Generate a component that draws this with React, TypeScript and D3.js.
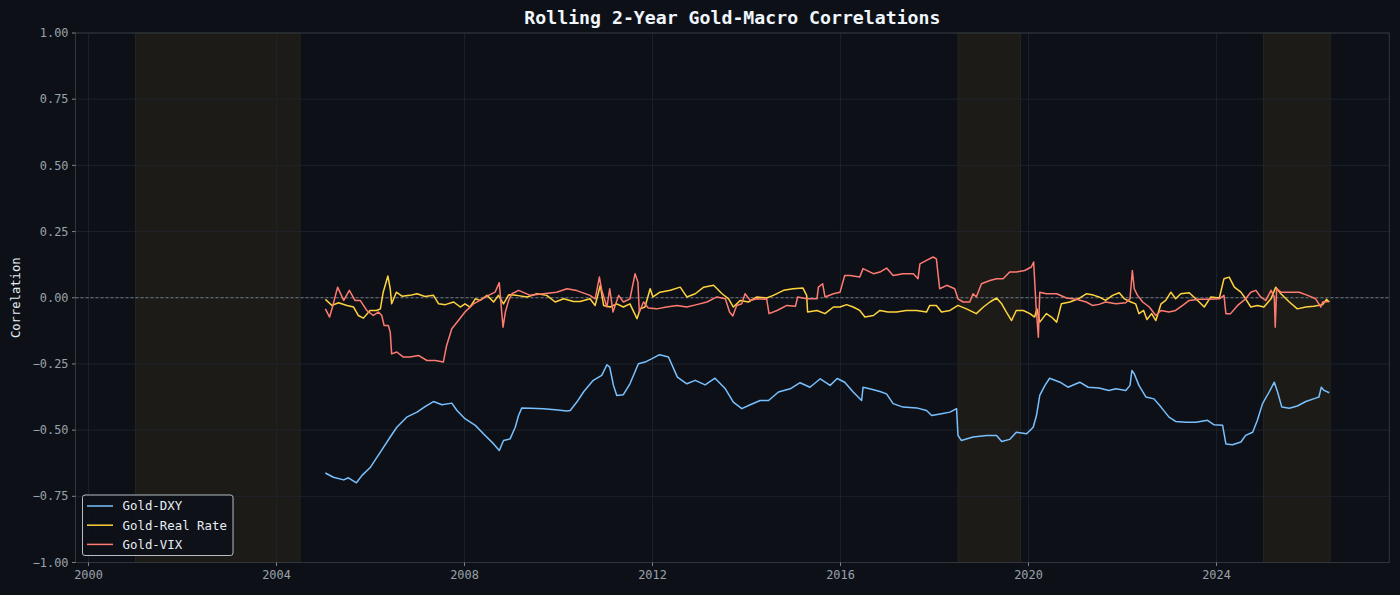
import { scaleLinear, line, curveLinear, format } from 'd3';

// ---- data ----
type Pt = [number, number];

const goldDxy: Pt[] = [
  [2005.04, -0.662], [2005.21, -0.678], [2005.43, -0.688], [2005.53, -0.68], [2005.7, -0.699],
  [2005.82, -0.671], [2006.0, -0.64], [2006.21, -0.583], [2006.42, -0.526], [2006.56, -0.489],
  [2006.77, -0.451], [2006.99, -0.432], [2007.16, -0.411], [2007.34, -0.392], [2007.52, -0.404],
  [2007.73, -0.398], [2007.84, -0.426], [2008.01, -0.457], [2008.23, -0.482], [2008.44, -0.52],
  [2008.62, -0.552], [2008.74, -0.577], [2008.83, -0.539], [2008.97, -0.533], [2009.08, -0.489],
  [2009.15, -0.445], [2009.22, -0.416], [2009.4, -0.417], [2009.68, -0.419], [2009.93, -0.423],
  [2010.18, -0.428], [2010.25, -0.426], [2010.39, -0.394], [2010.54, -0.354], [2010.74, -0.312],
  [2010.92, -0.293], [2011.03, -0.253], [2011.09, -0.262], [2011.17, -0.331], [2011.24, -0.369],
  [2011.38, -0.366], [2011.52, -0.325], [2011.7, -0.249], [2011.84, -0.243], [2011.99, -0.23],
  [2012.15, -0.215], [2012.34, -0.224], [2012.53, -0.3], [2012.73, -0.325], [2012.91, -0.312],
  [2013.12, -0.329], [2013.33, -0.304], [2013.55, -0.344], [2013.72, -0.394], [2013.9, -0.419],
  [2014.08, -0.404], [2014.29, -0.388], [2014.47, -0.388], [2014.68, -0.356], [2014.93, -0.344],
  [2015.14, -0.321], [2015.35, -0.338], [2015.57, -0.306], [2015.78, -0.331], [2015.93, -0.305],
  [2016.09, -0.319], [2016.27, -0.356], [2016.45, -0.388], [2016.48, -0.338], [2016.62, -0.344],
  [2016.84, -0.354], [2016.98, -0.363], [2017.12, -0.4], [2017.33, -0.413], [2017.62, -0.416],
  [2017.83, -0.426], [2017.94, -0.445], [2018.15, -0.438], [2018.33, -0.432], [2018.47, -0.419],
  [2018.5, -0.52], [2018.57, -0.539], [2018.82, -0.526], [2019.11, -0.52], [2019.32, -0.52],
  [2019.43, -0.543], [2019.6, -0.535], [2019.74, -0.508], [2019.96, -0.514], [2020.1, -0.489],
  [2020.17, -0.445], [2020.24, -0.369], [2020.35, -0.331], [2020.45, -0.304], [2020.67, -0.319],
  [2020.84, -0.338], [2021.09, -0.319], [2021.27, -0.338], [2021.5, -0.341], [2021.71, -0.35],
  [2021.86, -0.344], [2022.07, -0.35], [2022.16, -0.331], [2022.2, -0.275], [2022.25, -0.287],
  [2022.35, -0.331], [2022.5, -0.375], [2022.67, -0.382], [2022.82, -0.413], [2022.99, -0.451],
  [2023.13, -0.467], [2023.35, -0.47], [2023.56, -0.47], [2023.81, -0.463], [2023.95, -0.48],
  [2024.13, -0.482], [2024.2, -0.552], [2024.34, -0.555], [2024.52, -0.545], [2024.62, -0.52],
  [2024.77, -0.508], [2024.87, -0.463], [2024.98, -0.4], [2025.12, -0.356], [2025.23, -0.319],
  [2025.3, -0.356], [2025.39, -0.413], [2025.55, -0.417], [2025.72, -0.409], [2025.9, -0.392],
  [2026.11, -0.379], [2026.18, -0.375], [2026.23, -0.338], [2026.29, -0.35], [2026.4, -0.359],
];

const goldRealRate: Pt[] = [
  [2005.04, -0.006], [2005.18, -0.029], [2005.32, -0.019], [2005.5, -0.029], [2005.64, -0.035],
  [2005.74, -0.067], [2005.85, -0.077], [2005.99, -0.048], [2006.13, -0.048], [2006.21, -0.042],
  [2006.27, 0.021], [2006.37, 0.082], [2006.42, 0.034], [2006.45, -0.023], [2006.55, 0.021],
  [2006.67, 0.006], [2006.84, 0.009], [2006.99, 0.015], [2007.16, 0.005], [2007.34, 0.009],
  [2007.45, -0.023], [2007.59, -0.026], [2007.77, -0.016], [2007.91, -0.035], [2008.01, -0.023],
  [2008.12, -0.035], [2008.23, -0.004], [2008.33, -0.01], [2008.48, 0.009], [2008.62, -0.016],
  [2008.72, 0.009], [2008.83, -0.023], [2008.94, 0.011], [2009.11, 0.009], [2009.33, 0.003],
  [2009.54, 0.015], [2009.75, 0.009], [2009.93, -0.016], [2010.11, -0.004], [2010.32, -0.014],
  [2010.46, -0.014], [2010.67, -0.004], [2010.78, -0.029], [2010.89, 0.047], [2010.96, -0.029],
  [2011.1, -0.035], [2011.24, -0.023], [2011.38, -0.035], [2011.52, -0.023], [2011.62, -0.06],
  [2011.67, -0.079], [2011.74, -0.042], [2011.84, -0.035], [2011.95, 0.034], [2012.01, 0.003],
  [2012.16, 0.021], [2012.38, 0.028], [2012.59, 0.04], [2012.73, 0.003], [2012.91, 0.015],
  [2013.09, 0.04], [2013.3, 0.047], [2013.48, 0.015], [2013.62, -0.004], [2013.72, -0.035],
  [2013.87, -0.01], [2014.04, -0.016], [2014.22, 0.003], [2014.43, -0.001], [2014.57, 0.009],
  [2014.79, 0.028], [2014.99, 0.034], [2015.2, 0.037], [2015.28, 0.009], [2015.3, -0.054],
  [2015.5, -0.048], [2015.67, -0.06], [2015.85, -0.035], [2015.99, -0.035], [2016.13, -0.026],
  [2016.27, -0.035], [2016.41, -0.048], [2016.52, -0.073], [2016.7, -0.067], [2016.84, -0.048],
  [2017.01, -0.054], [2017.19, -0.054], [2017.4, -0.048], [2017.62, -0.048], [2017.83, -0.054],
  [2017.9, -0.029], [2018.04, -0.029], [2018.15, -0.054], [2018.33, -0.048], [2018.5, -0.029],
  [2018.68, -0.042], [2018.89, -0.06], [2019.04, -0.035], [2019.18, -0.016], [2019.32, -0.001],
  [2019.43, -0.023], [2019.53, -0.054], [2019.64, -0.086], [2019.74, -0.048], [2019.89, -0.048],
  [2020.03, -0.06], [2020.13, -0.073], [2020.18, -0.042], [2020.24, -0.092], [2020.38, -0.06],
  [2020.49, -0.073], [2020.6, -0.092], [2020.7, -0.023], [2020.88, -0.016], [2021.06, -0.004],
  [2021.23, 0.015], [2021.38, 0.01], [2021.5, 0.003], [2021.64, -0.01], [2021.79, 0.009],
  [2021.93, 0.019], [2022.04, -0.004], [2022.18, -0.016], [2022.28, -0.023], [2022.35, -0.06],
  [2022.45, -0.048], [2022.52, -0.082], [2022.62, -0.06], [2022.71, -0.086], [2022.82, -0.023],
  [2022.92, -0.01], [2023.03, 0.021], [2023.13, -0.004], [2023.24, 0.015], [2023.42, 0.019],
  [2023.56, -0.004], [2023.74, -0.035], [2023.88, 0.003], [2024.06, -0.001], [2024.16, 0.072],
  [2024.27, 0.078], [2024.38, 0.04], [2024.52, 0.021], [2024.62, -0.004], [2024.73, -0.035],
  [2024.87, -0.029], [2025.01, -0.035], [2025.16, -0.004], [2025.26, 0.04], [2025.37, 0.015],
  [2025.55, -0.016], [2025.72, -0.042], [2025.9, -0.035], [2026.07, -0.032], [2026.26, -0.026],
  [2026.34, -0.006], [2026.4, -0.016],
];

const goldVix: Pt[] = [
  [2005.04, -0.042], [2005.13, -0.073], [2005.2, -0.029], [2005.3, 0.04], [2005.43, -0.01],
  [2005.55, 0.028], [2005.67, -0.01], [2005.78, -0.01], [2005.92, -0.048], [2006.06, -0.067],
  [2006.17, -0.054], [2006.24, -0.067], [2006.29, -0.105], [2006.38, -0.105], [2006.42, -0.13],
  [2006.45, -0.212], [2006.56, -0.205], [2006.7, -0.224], [2006.84, -0.224], [2007.02, -0.218],
  [2007.2, -0.237], [2007.38, -0.237], [2007.55, -0.243], [2007.62, -0.18], [2007.73, -0.117],
  [2007.87, -0.086], [2008.01, -0.054], [2008.19, -0.023], [2008.33, -0.01], [2008.51, 0.009],
  [2008.65, 0.021], [2008.74, 0.057], [2008.77, -0.01], [2008.82, -0.111], [2008.87, -0.054],
  [2008.94, -0.01], [2009.01, 0.015], [2009.15, 0.028], [2009.4, 0.009], [2009.68, 0.015],
  [2009.96, 0.021], [2010.18, 0.034], [2010.39, 0.027], [2010.67, 0.009], [2010.78, -0.004],
  [2010.87, 0.078], [2010.92, 0.028], [2011.03, -0.035], [2011.09, 0.034], [2011.16, -0.054],
  [2011.28, 0.009], [2011.38, -0.016], [2011.52, -0.004], [2011.63, 0.091], [2011.69, 0.059],
  [2011.72, -0.054], [2011.81, -0.016], [2011.91, -0.039], [2012.09, -0.042], [2012.3, -0.035],
  [2012.52, -0.029], [2012.73, -0.035], [2012.94, -0.026], [2013.16, -0.016], [2013.37, 0.003],
  [2013.55, -0.004], [2013.64, -0.054], [2013.71, -0.069], [2013.79, -0.029], [2013.9, -0.023],
  [2013.97, 0.015], [2014.08, -0.01], [2014.22, -0.004], [2014.43, -0.006], [2014.48, -0.06],
  [2014.65, -0.048], [2014.86, -0.029], [2015.04, -0.032], [2015.09, 0.003], [2015.28, -0.004],
  [2015.5, -0.004], [2015.53, 0.04], [2015.62, 0.053], [2015.67, 0.003], [2015.85, 0.015],
  [2015.99, 0.021], [2016.09, 0.084], [2016.2, 0.084], [2016.41, 0.078], [2016.48, 0.11],
  [2016.7, 0.091], [2016.84, 0.097], [2016.98, 0.112], [2017.12, 0.084], [2017.33, 0.091],
  [2017.55, 0.091], [2017.65, 0.072], [2017.69, 0.128], [2017.83, 0.141], [2017.97, 0.154],
  [2018.04, 0.147], [2018.11, 0.034], [2018.26, 0.047], [2018.43, 0.034], [2018.5, -0.004],
  [2018.61, -0.016], [2018.75, -0.016], [2018.82, 0.015], [2018.89, 0.003], [2019.0, 0.053],
  [2019.18, 0.065], [2019.32, 0.072], [2019.46, 0.072], [2019.6, 0.097], [2019.74, 0.097],
  [2019.92, 0.103], [2020.06, 0.116], [2020.11, 0.135], [2020.16, -0.029], [2020.21, -0.149],
  [2020.24, 0.021], [2020.38, 0.015], [2020.6, 0.015], [2020.81, -0.001], [2021.02, -0.006],
  [2021.23, -0.016], [2021.36, -0.029], [2021.5, -0.025], [2021.64, -0.016], [2021.86, -0.023],
  [2022.07, -0.019], [2022.16, -0.004], [2022.21, 0.103], [2022.25, 0.034], [2022.32, 0.009],
  [2022.43, -0.016], [2022.57, -0.035], [2022.71, -0.067], [2022.82, -0.048], [2022.99, -0.054],
  [2023.13, -0.048], [2023.28, -0.029], [2023.42, -0.01], [2023.63, -0.006], [2023.84, -0.006],
  [2024.06, -0.004], [2024.16, 0.009], [2024.2, -0.06], [2024.3, -0.06], [2024.45, -0.029],
  [2024.62, -0.004], [2024.73, 0.021], [2024.84, 0.028], [2024.94, 0.003], [2025.05, -0.01],
  [2025.16, 0.028], [2025.23, 0.003], [2025.25, -0.111], [2025.28, 0.034], [2025.37, 0.021],
  [2025.55, 0.021], [2025.76, 0.021], [2025.94, 0.009], [2026.11, -0.004], [2026.22, -0.035],
  [2026.26, -0.016], [2026.4, -0.014],
];

const shadedPeriods: [number, number][] = [
  [2001.0, 2004.5],
  [2018.5, 2019.83],
  [2025.0, 2026.42],
];

const xTicks = [2000, 2004, 2008, 2012, 2016, 2020, 2024];
const yTicks = [-1, -0.75, -0.5, -0.25, 0, 0.25, 0.5, 0.75, 1];

const series = [
  { name: 'Gold-DXY', color: '#79c0ff', data: goldDxy },
  { name: 'Gold-Real Rate', color: '#ffd33d', data: goldRealRate },
  { name: 'Gold-VIX', color: '#ff7b72', data: goldVix },
];

// ---- layout ----
const W = 1400;
const H = 595;
const plot = { left: 75.5, right: 1389.3, top: 33, bottom: 562.5 };
const FONT = '"DejaVu Sans Mono", monospace';
const BG = '#0d1117';
const GRID = '#21262d';
const SPINE = '#30363d';
const TICK_TEXT = '#9aa2ab';

export default function App() {
  const x = scaleLinear().domain([1999.7234, 2027.677]).range([plot.left, plot.right]);
  const y = scaleLinear().domain([-1, 1]).range([plot.bottom, plot.top]);
  const fmt = format('.2f');

  const lineGen = line<Pt>()
    .x((d) => x(d[0]))
    .y((d) => y(d[1]))
    .curve(curveLinear);

  return (
    <div style={{ position: 'fixed', left: 0, top: 0, width: W, height: H, background: BG }}>
      <svg width={W} height={H} style={{ display: 'block' }}>
        <rect x={0} y={0} width={W} height={H} fill={BG} />

        {/* Shaded periods */}
        {shadedPeriods.map(([a, b], i) => (
          <rect
            key={`shade-${i}`}
            x={x(a)}
            y={plot.top}
            width={x(b) - x(a)}
            height={plot.bottom - plot.top}
            fill="#1c1b18"
            stroke="#2a281f"
            strokeWidth={0.8}
          />
        ))}

        {/* Grid */}
        {xTicks.map((t) => (
          <line key={`gx-${t}`} x1={x(t)} x2={x(t)} y1={plot.top} y2={plot.bottom} stroke={GRID} strokeWidth={0.8} />
        ))}
        {yTicks.map((t) => (
          <line key={`gy-${t}`} x1={plot.left} x2={plot.right} y1={y(t)} y2={y(t)} stroke={GRID} strokeWidth={0.8} />
        ))}

        {/* Zero line */}
        <line
          x1={plot.left}
          x2={plot.right}
          y1={y(0)}
          y2={y(0)}
          stroke="#8b949e"
          strokeWidth={0.8}
          strokeDasharray="3 2"
        />

        {/* Series */}
        {series.map((s) => (
          <path
            key={s.name}
            d={lineGen(s.data) || ''}
            fill="none"
            stroke={s.color}
            strokeWidth={1.5}
            strokeLinejoin="round"
          />
        ))}

        {/* Spines */}
        <rect
          x={plot.left}
          y={plot.top}
          width={plot.right - plot.left}
          height={plot.bottom - plot.top}
          fill="none"
          stroke={SPINE}
          strokeWidth={1}
        />

        {/* X axis ticks */}
        {xTicks.map((t) => (
          <g key={`xt-${t}`}>
            <line x1={x(t)} x2={x(t)} y1={plot.bottom} y2={plot.bottom + 3.5} stroke={TICK_TEXT} strokeWidth={0.8} />
            <text
              x={x(t)}
              y={plot.bottom + 16}
              textAnchor="middle"
              fontFamily={FONT}
              fontSize={11.9}
              fill={TICK_TEXT}
            >
              {t}
            </text>
          </g>
        ))}

        {/* Y axis ticks */}
        {yTicks.map((t) => (
          <g key={`yt-${t}`}>
            <line x1={plot.left - 3.5} x2={plot.left} y1={y(t)} y2={y(t)} stroke={TICK_TEXT} strokeWidth={0.8} />
            <text
              x={plot.left - 7}
              y={y(t)}
              dy="0.35em"
              textAnchor="end"
              fontFamily={FONT}
              fontSize={11.9}
              fill={TICK_TEXT}
            >
              {fmt(t)}
            </text>
          </g>
        ))}

        {/* Y label */}
        <text
          transform={`translate(20,${(plot.top + plot.bottom) / 2}) rotate(-90)`}
          textAnchor="middle"
          fontFamily={FONT}
          fontSize={12.2}
          fill="#e6edf3"
        >
          Correlation
        </text>

        {/* Title */}
        <text
          x={(plot.left + plot.right) / 2}
          y={24}
          textAnchor="middle"
          fontFamily={FONT}
          fontWeight="bold"
          fontSize={18.2}
          fill="#f0f6fc"
        >
          Rolling 2-Year Gold-Macro Correlations
        </text>

        {/* Legend */}
        <g transform="translate(82.5,495)">
          <rect x={0} y={0} width={150.5} height={60.5} rx={2.5} fill={BG} fillOpacity={0.9} stroke="#c9d1d9" strokeWidth={0.9} />
          {series.map((s, i) => (
            <g key={`lg-${s.name}`} transform={`translate(0,${11 + i * 19.2})`}>
              <line x1={4.5} x2={30.5} y1={0} y2={0} stroke={s.color} strokeWidth={1.5} />
              <text x={40} y={0} dy="0.35em" fontFamily={FONT} fontSize={12.4} fill="#e6edf3">
                {s.name}
              </text>
            </g>
          ))}
        </g>
      </svg>
    </div>
  );
}
